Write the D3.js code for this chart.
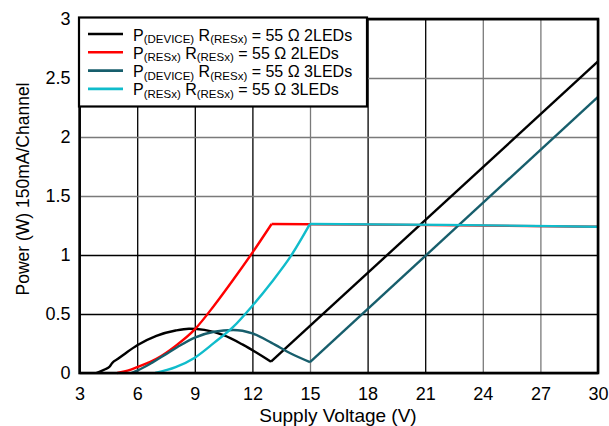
<!DOCTYPE html>
<html lang="en">
<head>
<meta charset="utf-8">
<title>Power vs Supply Voltage</title>
<script src="https://cdn.jsdelivr.net/npm/d3@7"></script>
<style>
  body { margin: 0; background: #fff; }
  text { font-family: "Liberation Sans", Arial, sans-serif; }
</style>
</head>
<body>
<script>
// data (V, W)
var device2 = [[3.87,0],[4.3,0.03],[4.57,0.055],[4.7,0.085],[5,0.12],[5.5,0.18],[6,0.235],[7,0.315],[8,0.36],[8.7,0.375],[9.5,0.365],[10.5,0.32],[11.5,0.24],[12.97,0.096],[30,2.64]];
var resx2 = [[4.96,0],[5.5,0.02],[6,0.05],[7,0.12],[8,0.23],[9,0.37],[10,0.57],[11,0.79],[12,1.02],[13,1.263],[20,1.255],[30,1.24]];
var device3 = [[5.69,0],[6,0.02],[6.7,0.08],[7.5,0.16],[8.1,0.22],[9,0.3],[10,0.35],[11,0.364],[12,0.335],[13,0.255],[14,0.165],[15,0.092],[30,2.34]];
var resx3 = [[6.94,0],[8,0.05],[9,0.13],[10,0.255],[11,0.39],[12,0.57],[13,0.77],[14,0.99],[15,1.263],[22,1.255],[30,1.24]];

var xTicks = [3,6,9,12,15,18,21,24,27,30];
var yTicks = [0,0.5,1,1.5,2,2.5,3];
var grayX = [15,24,27];
var grayY = [1.5,2,2.5];

// knee = voltage where the current reaches 150mA (curve turns into a straight line)
var series = [
  {name:"DEVICE", leds:"2LEDs", color:"#000000", knee:12.97, data:device2},
  {name:"RESx",   leds:"2LEDs", color:"#ff0000", knee:13,    data:resx2},
  {name:"DEVICE", leds:"3LEDs", color:"#175e6c", knee:15,    data:device3},
  {name:"RESx",   leds:"3LEDs", color:"#10bccb", knee:15,    data:resx3}
];

var W = 609, H = 426;
var m = {left:79.6, right:11, top:19, bottom:53};
var w = W - m.left - m.right, h = H - m.top - m.bottom;

var svg = d3.select("body").append("svg").attr("width",W).attr("height",H);
var g = svg.append("g").attr("transform","translate("+m.left+","+m.top+")");

var x = d3.scaleLinear().domain([3,30]).range([0,w]);
var y = d3.scaleLinear().domain([0,3]).range([h,0]);

// grid
var gx = g.append("g").attr("transform","translate(0,"+h+")")
  .call(d3.axisBottom(x).tickValues(xTicks).tickSize(-h).tickFormat(""));
gx.select(".domain").remove();
gx.selectAll(".tick line").attr("stroke",function(d){ return grayX.indexOf(d)>=0 ? "#7a7a7a" : "#000"; }).attr("stroke-width",1.3);

var gy = g.append("g")
  .call(d3.axisLeft(y).tickValues(yTicks).tickSize(-w).tickFormat(""));
gy.select(".domain").remove();
gy.selectAll(".tick line").attr("stroke",function(d){ return grayY.indexOf(d)>=0 ? "#7a7a7a" : "#000"; }).attr("stroke-width",1.3);

// tick labels
var lx = g.append("g").attr("transform","translate(0,"+h+")")
  .call(d3.axisBottom(x).tickValues(xTicks).tickSize(0).tickPadding(14).tickFormat(d3.format("d")));
lx.select(".domain").remove();
lx.selectAll("text").attr("font-size",18).attr("fill","#000");

var ly = g.append("g")
  .call(d3.axisLeft(y).tickValues(yTicks).tickSize(0).tickPadding(9).tickFormat(function(d){ return d; }));
ly.select(".domain").remove();
ly.selectAll("text").attr("font-size",18).attr("fill","#000");

// curves: smooth part up to the knee, straight part after it
var smooth = d3.line().x(function(d){ return x(d[0]); }).y(function(d){ return y(d[1]); }).curve(d3.curveMonotoneX);
var straight = d3.line().x(function(d){ return x(d[0]); }).y(function(d){ return y(d[1]); });
var curves = g.selectAll(".curve").data(series).enter().append("g").attr("class","curve")
  .attr("fill","none")
  .attr("stroke",function(d){ return d.color; })
  .attr("stroke-width",2.4)
  .attr("stroke-linejoin","round");
curves.append("path").attr("d",function(d){
  return smooth(d.data.filter(function(p){ return p[0] <= d.knee; }));
});
curves.append("path").attr("d",function(d){
  return straight(d.data.filter(function(p){ return p[0] >= d.knee; }));
});

// frame
g.append("rect").attr("width",w).attr("height",h)
  .attr("fill","none").attr("stroke","#000").attr("stroke-width",2.6);

// axis titles
svg.append("text").attr("x",338).attr("y",422).attr("text-anchor","middle")
  .attr("font-size",19).text("Supply Voltage (V)");
svg.append("text").attr("transform","translate(29,189) rotate(-90)")
  .attr("text-anchor","middle").attr("font-size",17.5).text("Power (W) 150mA/Channel");

// legend
var lg = svg.append("g").attr("transform","translate(79,17.5)");
lg.append("rect").attr("width",288).attr("height",89)
  .attr("fill","#fff").attr("stroke","#000").attr("stroke-width",2.2);
var rows = lg.selectAll(".row").data(series).enter().append("g")
  .attr("transform",function(d,i){ return "translate(0,"+(16.5+i*18.3)+")"; });
rows.append("line").attr("x1",9).attr("x2",44)
  .attr("stroke",function(d){ return d.color; }).attr("stroke-width",2.6);
var t = rows.append("text").attr("x",54).attr("y",6.5).attr("font-size",16);
t.append("tspan").text("P");
t.append("tspan").attr("font-size",11.5).attr("dy",2.5).text(function(d){ return "("+d.name+")"; });
t.append("tspan").attr("dy",-2.5).text(" R");
t.append("tspan").attr("font-size",11.5).attr("dy",2.5).text("(RESx)");
t.append("tspan").attr("dy",-2.5).text(function(d){ return " = 55 \u03a9 "+d.leds; });
</script>
</body>
</html>
